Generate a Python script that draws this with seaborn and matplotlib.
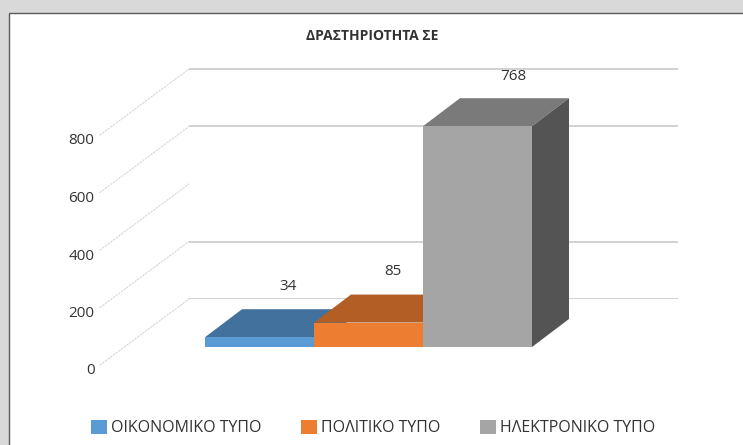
import matplotlib
matplotlib.use("Agg")
import matplotlib.pyplot as plt
import seaborn as sns
import pandas as pd
from matplotlib.patches import ConnectionPatch, Rectangle, Polygon

title = "ΔΡΑΣΤΗΡΙΟΤΗΤΑ ΣΕ"
categories = ["ΟΙΚΟΝΟΜΙΚΟ ΤΥΠΟ", "ΠΟΛΙΤΙΚΟ ΤΥΠΟ", "ΗΛΕΚΤΡΟΝΙΚΟ ΤΥΠΟ"]
values = [34, 85, 768]
front_colors = ["#5b9bd5", "#ed7d31", "#a5a5a5"]
top_colors = ["#41719c", "#b25e25", "#7a7a7a"]
side_colors = ["#41719c", "#b25e25", "#545454"]
tick_values = [0, 200, 400, 600, 800]
back_gridlines = [0, 200, 600, 800]
label_shift = [(29, 51), (24, 51), (36, 50)]

W, H = 743, 445
PX_PER_UNIT = 0.2875
DEPTH = (37, 28)
FONT = ["Open Sans", "DejaVu Sans"]

sns.set_theme(style="white")
plt.rcParams["font.family"] = FONT
fig = plt.figure(figsize=(W / 100, H / 100), dpi=100, facecolor="#d9d9d9")
fig.add_artist(Rectangle((9 / W, -0.1), 1.1, 1.1 - 13 / H, transform=fig.transFigure,
                         facecolor="white", edgecolor="#5a5a5a", linewidth=1.0, zorder=-1))


def plane(left, right, zero_y):
    top_value = 1000
    top = zero_y - top_value * PX_PER_UNIT
    ax = fig.add_axes([left / W, 1 - zero_y / H, (right - left) / W, (zero_y - top) / H])
    ax.set_ylim(0, top_value)
    ax.patch.set_alpha(0)
    sns.despine(ax=ax, left=True, bottom=True)
    ax.set_xticks([])
    return ax


# value labels sit slightly below the front edge of the side wall
ax_labels = plane(100, 180, 369)
ax_labels.set_xlim(0, 1)
ax_labels.set_yticks(tick_values)
ax_labels.set_yticklabels([str(v) for v in tick_values], fontsize=11, color="#333333")
ax_labels.tick_params(axis="y", length=0, pad=4)

# side wall, front edge
ax_front = plane(100, 180, 365)
ax_front.set_xlim(0, 1)
ax_front.set_yticks([])

# back wall
ax_back = plane(189, 678, 299)
ax_back.set_xlim(0, 1)
ax_back.set_yticks([])
for v in back_gridlines:
    ax_back.axhline(v, color="#c9c9c9", linewidth=1.2, zorder=1)
for v in tick_values:
    fig.add_artist(ConnectionPatch((0, v), (0, v),
                                   coordsA=ax_front.get_yaxis_transform(),
                                   coordsB=ax_back.get_yaxis_transform(),
                                   color="#d6d6d6", linewidth=0.8, linestyle=(0, (1.5, 1.5))))

# bars
ax_bar = plane(205, 532, 347)
df = pd.DataFrame({"category": categories, "value": values})
sns.barplot(data=df, x="category", y="value", hue="category", palette=front_colors,
            width=1.0, saturation=1, dodge=False, legend=True, ax=ax_bar, zorder=5,
            linewidth=0, edgecolor="none")
ax_bar.set_xlim(-0.5, 2.5)
ax_bar.set_ylim(0, 1000)
ax_bar.set_xlabel("")
ax_bar.set_ylabel("")
ax_bar.set_xticks([])
ax_bar.set_yticks([])

dx = DEPTH[0] / (327 / 3)
dy = DEPTH[1] / PX_PER_UNIT
for i, v in enumerate(values):
    x0, x1 = i - 0.5, i + 0.5
    z = 2 + i
    ax_bar.add_patch(Polygon([(x0, v), (x1, v), (x1 + dx, v + dy), (x0 + dx, v + dy)],
                             facecolor=top_colors[i], edgecolor="none", zorder=z, clip_on=False))
    ax_bar.add_patch(Polygon([(x1, 0), (x1, v), (x1 + dx, v + dy), (x1 + dx, dy)],
                             facecolor=side_colors[i], edgecolor="none", zorder=z, clip_on=False))
    ax_bar.annotate(str(v), (i, v), xytext=label_shift[i], textcoords="offset pixels",
                    ha="center", va="center", fontsize=11, color="#333333",
                    annotation_clip=False, zorder=8)

handles, labels = ax_bar.get_legend_handles_labels()
ax_bar.get_legend().remove()
fig.legend(handles, labels, loc="center", bbox_to_anchor=(373 / W, 1 - 428 / H), ncol=3,
           frameon=False, fontsize=11.5, handlelength=1.0, handleheight=1.0,
           handletextpad=0.25, columnspacing=2.5, labelcolor="#333333")

fig.text(372.5 / W, 1 - 35.5 / H, title, ha="center", va="center", fontsize=10,
         fontweight="bold", color="#333333")

fig.savefig("out.png", dpi=100, facecolor=fig.get_facecolor())
